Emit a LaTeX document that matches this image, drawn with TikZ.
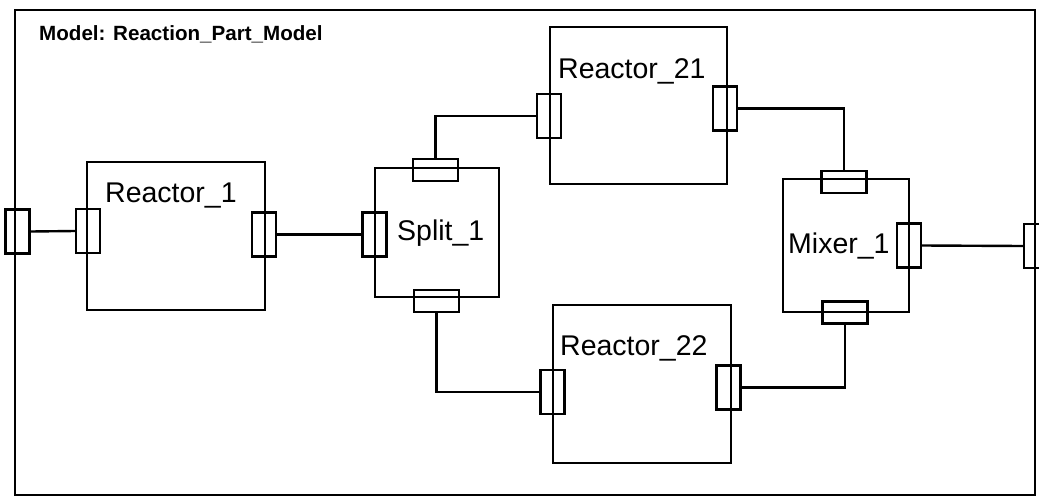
\documentclass[tikz,border=0pt]{standalone}
\usepackage{fontspec}
\setsansfont{Liberation Sans}
\usetikzlibrary{positioning, calc}
\tikzset{
  every node/.style={font=\sffamily},
  wire/.style={line width=2.4pt},
  frame/.style={draw, line width=2.4pt, inner sep=0pt},
  unit/.style={draw, line width=2.4pt, inner sep=0pt},
  portV/.style={draw, line width=2.4pt, inner sep=0pt, minimum width=24pt, minimum height=44pt},
  portH/.style={draw, line width=2.4pt, inner sep=0pt, minimum width=45pt, minimum height=22pt},
  lbl/.style={anchor=base west, inner sep=0pt, font=\sffamily\fontsize{28.5}{30}\selectfont},
}

\begin{document}
\begin{tikzpicture}[x=1pt, y=-1pt]
  \useasboundingbox (0,0) rectangle (1039,501);
  \clip (0,0) rectangle (1039,501);
  % model frame
  \node[frame, minimum width=1020pt, minimum height=485pt] (model) at (525,252.5) {};
  \node[anchor=base west, inner sep=0pt, font=\sffamily\bfseries\fontsize{20.6}{24}\selectfont] (title) at (39,40) {Model: Reaction\_Part\_Model};
  % parts
  \node[unit, minimum width=178pt, minimum height=148pt] (reactorA)  at (176,236) {};
  \node[unit, minimum width=124pt, minimum height=129pt] (split)     at (437,232.5) {};
  \node[unit, minimum width=177pt, minimum height=157pt] (reactorB)  at (638.5,105.5) {};
  \node[unit, minimum width=178pt, minimum height=158pt] (reactorC)  at (642,384) {};
  \node[unit, minimum width=126pt, minimum height=133pt] (mixer)     at (846,245.5) {};
  % labels
  \node[lbl] (reactorAlbl) at (105,202) {Reactor\_1};
  \node[lbl] (splitlbl)    at (397,240) {Split\_1};
  \node[lbl] (reactorBlbl) at (558,78)  {Reactor\_21};
  \node[lbl] (reactorClbl) at (560,355) {Reactor\_22};
  \node[lbl] (mixerlbl)    at (788,253) {Mixer\_1};
  % ports
  \node[portV] (pin)       at (17.5,231.5) {};
  \node[portV] (pout)      at (1036,246) {};
  \node[portV] (reactorAin)  at (88,231) {};
  \node[portV] (reactorAout) at (264,234.5) {};
  \node[portV] (splitin)   at (374.5,234.5) {};
  \node[portH] (splitoutA) at (435.5,170) {};
  \node[portH] (splitoutB) at (436.5,301) {};
  \node[portV] (reactorBin)  at (549,116) {};
  \node[portV] (reactorBout) at (725,108.5) {};
  \node[portV] (reactorCin)  at (552.5,392) {};
  \node[portV] (reactorCout) at (728.5,387.5) {};
  \node[portH] (mixinA)    at (844,182) {};
  \node[portH] (mixinB)    at (845,312.5) {};
  \node[portV] (mixout)    at (909,245.5) {};
  % connections
  \draw[wire] (pin.east) -- (reactorAin.west);
  \draw[wire] (reactorAout.east) -- (splitin.west);
  \draw[wire] (splitoutA.north) |- (reactorBin.west);
  \draw[wire] (splitoutB.south) |- (reactorCin.west);
  \draw[wire] (reactorBout.east) -| (mixinA.north);
  \draw[wire] (reactorCout.east) -| (mixinB.south);
  \draw[wire] (mixout.east) -- (pout.west);
\end{tikzpicture}
\end{document}
